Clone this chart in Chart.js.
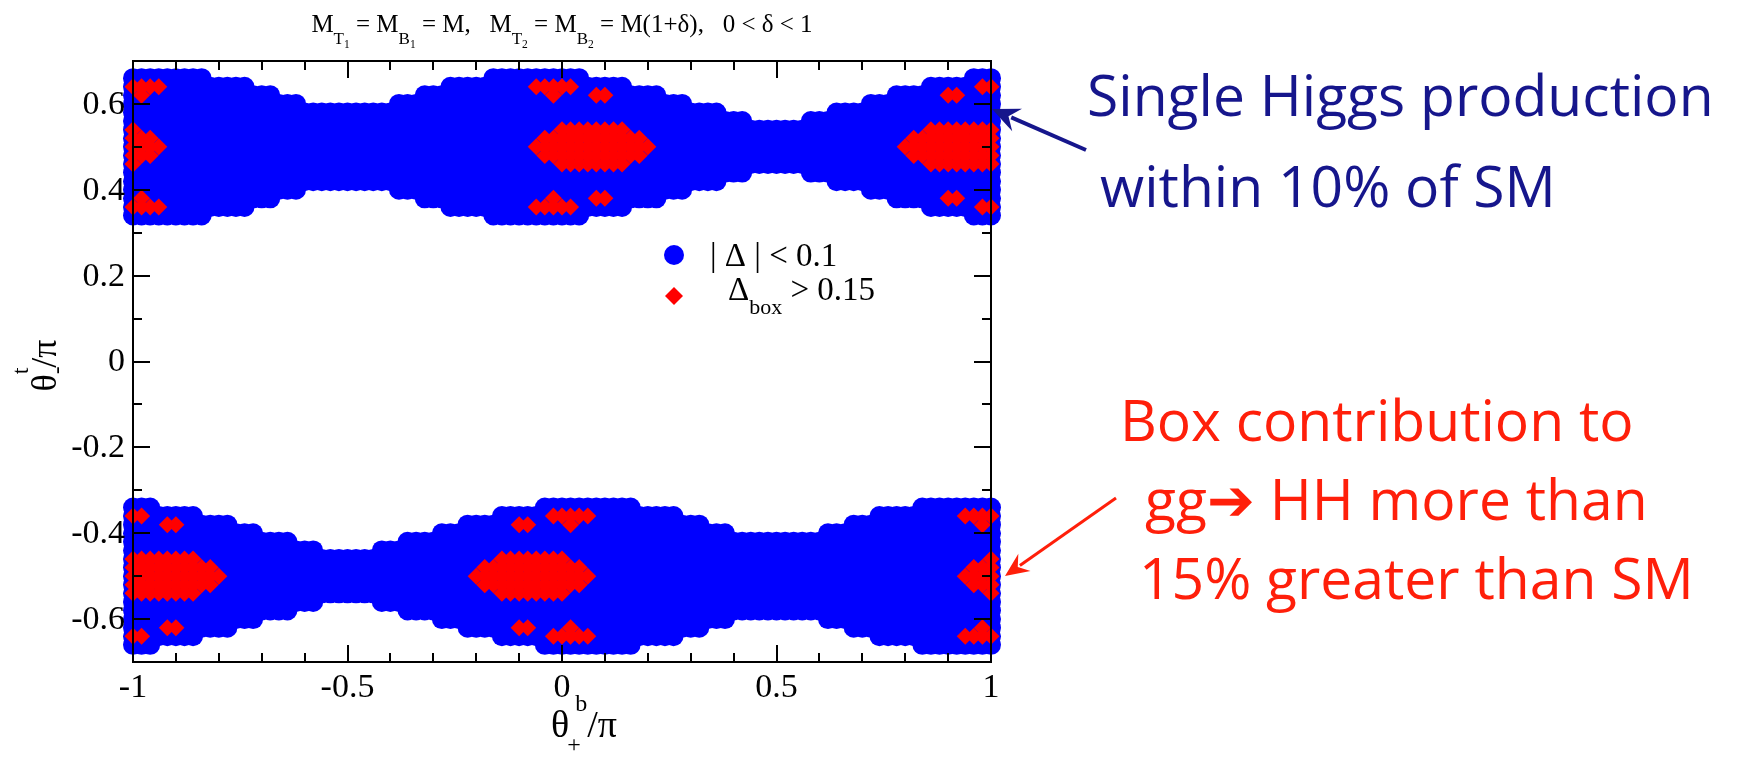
<!DOCTYPE html>
<html>
<head>
<meta charset="utf-8">
<script src="https://cdn.jsdelivr.net/npm/chart.js@4/dist/chart.umd.min.js"></script>
<style>
  html, body { margin: 0; padding: 0; background: #fff; }
  #wrap { width: 1746px; height: 757px; }
</style>
</head>
<body>
<div id="wrap"><canvas id="chart" width="1746" height="757"></canvas></div>
<script>
// scan grid step in theta/pi (both axes)
const gridStep = 0.02;

// blue |Delta| < 0.1 bands: [xFrom, xTo, half-width around band centre]
const upperCentre = 0.5;
const upperBand = [
  [-1.00, -0.84, 0.16], [-0.82, -0.74, 0.14], [-0.72, -0.68, 0.12], [-0.66, -0.62, 0.10],
  [-0.60, -0.40, 0.08], [-0.38, -0.34, 0.10], [-0.32, -0.28, 0.12], [-0.26, -0.18, 0.14],
  [-0.16, 0.04, 0.16], [0.06, 0.14, 0.14], [0.16, 0.22, 0.12], [0.24, 0.28, 0.10],
  [0.30, 0.36, 0.08], [0.38, 0.42, 0.06], [0.44, 0.56, 0.04], [0.58, 0.62, 0.06],
  [0.64, 0.70, 0.08], [0.72, 0.76, 0.10], [0.78, 0.84, 0.12], [0.86, 0.94, 0.14],
  [0.96, 1.00, 0.16]
];
const lowerCentre = -0.5;
const lowerBand = [
  [-1.00, -0.96, 0.16], [-0.94, -0.86, 0.14], [-0.84, -0.78, 0.12], [-0.76, -0.72, 0.10],
  [-0.70, -0.64, 0.08], [-0.62, -0.58, 0.06], [-0.56, -0.44, 0.04], [-0.42, -0.38, 0.06],
  [-0.36, -0.30, 0.08], [-0.28, -0.24, 0.10], [-0.22, -0.16, 0.12], [-0.14, -0.06, 0.14],
  [-0.04, 0.16, 0.16], [0.18, 0.26, 0.14], [0.28, 0.32, 0.12], [0.34, 0.38, 0.10],
  [0.40, 0.60, 0.08], [0.62, 0.66, 0.10], [0.68, 0.72, 0.12], [0.74, 0.82, 0.14],
  [0.84, 1.00, 0.16]
];

// red Delta_box > 0.15 points: [y, xFrom, xTo]
const boxRuns = [
  [0.64, -1.00, -0.94], [0.64, -0.06, 0.02], [0.64, 0.98, 1.00],
  [0.62, -0.98, -0.98], [0.62, -0.02, -0.02], [0.62, 0.08, 0.10], [0.62, 0.90, 0.92],
  [0.54, -1.00, -1.00], [0.54, 0.00, 0.14], [0.54, 0.86, 1.00],
  [0.52, -1.00, -0.96], [0.52, -0.04, 0.18], [0.52, 0.82, 1.00],
  [0.50, -1.00, -0.94], [0.50, -0.06, 0.20], [0.50, 0.80, 1.00],
  [0.48, -1.00, -0.96], [0.48, -0.04, 0.18], [0.48, 0.82, 1.00],
  [0.46, -1.00, -1.00], [0.46, 0.00, 0.14], [0.46, 0.86, 1.00],
  [0.38, -0.98, -0.98], [0.38, -0.02, -0.02], [0.38, 0.08, 0.10], [0.38, 0.90, 0.92],
  [0.36, -1.00, -0.94], [0.36, -0.06, 0.02], [0.36, 0.98, 1.00],
  [-0.36, -1.00, -0.98], [-0.36, -0.02, 0.06], [-0.36, 0.94, 1.00],
  [-0.38, -0.92, -0.90], [-0.38, -0.10, -0.08], [-0.38, 0.02, 0.02], [-0.38, 0.98, 0.98],
  [-0.46, -1.00, -0.86], [-0.46, -0.14, 0.00], [-0.46, 1.00, 1.00],
  [-0.48, -1.00, -0.82], [-0.48, -0.18, 0.04], [-0.48, 0.96, 1.00],
  [-0.50, -1.00, -0.80], [-0.50, -0.20, 0.06], [-0.50, 0.94, 1.00],
  [-0.52, -1.00, -0.82], [-0.52, -0.18, 0.04], [-0.52, 0.96, 1.00],
  [-0.54, -1.00, -0.86], [-0.54, -0.14, 0.00], [-0.54, 1.00, 1.00],
  [-0.62, -0.92, -0.90], [-0.62, -0.10, -0.08], [-0.62, 0.02, 0.02], [-0.62, 0.98, 0.98],
  [-0.64, -1.00, -0.98], [-0.64, -0.02, 0.06], [-0.64, 0.94, 1.00]
];

const xTicks = [-1, -0.5, 0, 0.5, 1];
const xTickLabels = ['-1', '-0.5', '0', '0.5', '1'];
const xMinorTicks = [-0.9, -0.8, -0.7, -0.6, -0.4, -0.3, -0.2, -0.1, 0.1, 0.2, 0.3, 0.4, 0.6, 0.7, 0.8, 0.9];
const yTicks = [-0.6, -0.4, -0.2, 0, 0.2, 0.4, 0.6];
const yTickLabels = ['-0.6', '-0.4', '-0.2', '0', '0.2', '0.4', '0.6'];
const yMinorTicks = [-0.5, -0.3, -0.1, 0.1, 0.3, 0.5];

const serif = '"Liberation Serif", "Times New Roman", serif';
const slideFont = '"Open Sans", "Noto Sans", sans-serif';
const navy = '#16168c';
const slideRed = '#ff1f0a';

const snap = (v) => Math.round(v / gridStep);
const val = (n) => +(n * gridStep).toFixed(2);

function bandPoints(profile, centre) {
  const pts = [];
  profile.forEach(([from, to, half]) => {
    for (let i = snap(from); i <= snap(to); i++) {
      for (let j = snap(centre - half); j <= snap(centre + half); j++) {
        pts.push({ x: val(i), y: val(j) });
      }
    }
  });
  return pts;
}

function runPoints(runs) {
  const pts = [];
  runs.forEach(([y, from, to]) => {
    for (let i = snap(from); i <= snap(to); i++) {
      pts.push({ x: val(i), y });
    }
  });
  return pts;
}

// parts: [text, size, dy, advance?, dx]
function drawRich(ctx, parts, x, y, align, family) {
  let width = 0;
  parts.forEach(p => {
    ctx.font = `${p[1]}px ${family}`;
    if (p[3] !== false) width += ctx.measureText(p[0]).width + (p[4] || 0);
  });
  let cx = align === 'center' ? x - width / 2 : x;
  parts.forEach(p => {
    ctx.font = `${p[1]}px ${family}`;
    ctx.fillText(p[0], cx + (p[4] || 0), y + (p[2] || 0));
    if (p[3] !== false) cx += ctx.measureText(p[0]).width + (p[4] || 0);
  });
}

function arrow(ctx, x0, y0, x1, y1, color, width, head) {
  const ang = Math.atan2(y1 - y0, x1 - x0);
  ctx.strokeStyle = color;
  ctx.fillStyle = color;
  ctx.lineWidth = width;
  ctx.beginPath();
  ctx.moveTo(x0, y0);
  ctx.lineTo(x1 - Math.cos(ang) * head * 0.7, y1 - Math.sin(ang) * head * 0.7);
  ctx.stroke();
  ctx.beginPath();
  ctx.moveTo(x1, y1);
  ctx.lineTo(x1 - head * Math.cos(ang - 0.42), y1 - head * Math.sin(ang - 0.42));
  ctx.lineTo(x1 - head * 0.6 * Math.cos(ang), y1 - head * 0.6 * Math.sin(ang));
  ctx.lineTo(x1 - head * Math.cos(ang + 0.42), y1 - head * Math.sin(ang + 0.42));
  ctx.closePath();
  ctx.fill();
}

const gracePlugin = {
  id: 'graceFrame',
  afterDatasetsDraw(chart) {
    const { ctx, chartArea: a, scales: { x, y } } = chart;
    ctx.save();
    ctx.strokeStyle = '#000';
    ctx.lineWidth = 2;
    ctx.strokeRect(a.left, a.top, a.right - a.left, a.bottom - a.top);

    // inward ticks on all four sides
    ctx.beginPath();
    const xt = (v, len) => {
      const px = Math.round(x.getPixelForValue(v));
      ctx.moveTo(px, a.bottom); ctx.lineTo(px, a.bottom - len);
      ctx.moveTo(px, a.top); ctx.lineTo(px, a.top + len);
    };
    const yt = (v, len) => {
      const py = Math.round(y.getPixelForValue(v));
      ctx.moveTo(a.left, py); ctx.lineTo(a.left + len, py);
      ctx.moveTo(a.right, py); ctx.lineTo(a.right - len, py);
    };
    xTicks.forEach(v => xt(v, 17));
    xMinorTicks.forEach(v => xt(v, 9));
    yTicks.forEach(v => yt(v, 17));
    yMinorTicks.forEach(v => yt(v, 9));
    ctx.stroke();

    ctx.fillStyle = '#000';
    ctx.font = `34px ${serif}`;
    ctx.textAlign = 'right';
    ctx.textBaseline = 'middle';
    yTicks.forEach((v, i) => ctx.fillText(yTickLabels[i], a.left - 8, y.getPixelForValue(v) + 1));
    ctx.textAlign = 'center';
    ctx.textBaseline = 'alphabetic';
    xTicks.forEach((v, i) => ctx.fillText(xTickLabels[i], x.getPixelForValue(v), a.bottom + 35));

    ctx.textAlign = 'left';
    // x axis title
    drawRich(ctx, [['θ', 38, 0], ['+', 24, 15, false, -2], ['b', 24, -26, true, 6], ['/π', 38, 0]],
      551, 737, 'left', serif);
    // y axis title, rotated
    ctx.save();
    ctx.translate(56, (a.top + a.bottom) / 2 + 4);
    ctx.rotate(-Math.PI / 2);
    drawRich(ctx, [['θ', 36, 0], ['-', 24, 8, false], ['t', 24, -28], ['/π', 36, 0]], 0, 0, 'center', serif);
    ctx.restore();

    // title
    drawRich(ctx, [
      ['M', 25, 0], ['T', 17, 12], ['1', 11.5, 16], [' = M', 25, 0], ['B', 17, 12], ['1', 11.5, 16],
      [' = M,   M', 25, 0], ['T', 17, 12], ['2', 11.5, 16], [' = M', 25, 0], ['B', 17, 12], ['2', 11.5, 16],
      [' = M(1+δ),   0 < δ < 1', 25, 0]
    ], (a.left + a.right) / 2, 32, 'center', serif);

    // legend
    const lx = 674;
    ctx.fillStyle = '#0000ff';
    ctx.beginPath();
    ctx.arc(lx, 255, 10, 0, Math.PI * 2);
    ctx.fill();
    ctx.fillStyle = '#ff0000';
    ctx.beginPath();
    ctx.moveTo(lx - 9, 296); ctx.lineTo(lx, 287); ctx.lineTo(lx + 9, 296); ctx.lineTo(lx, 305);
    ctx.closePath();
    ctx.fill();
    ctx.fillStyle = '#000';
    drawRich(ctx, [['| Δ | < 0.1', 33, 0]], 710, 266, 'left', serif);
    drawRich(ctx, [['Δ', 33, 0], ['box', 22, 14], [' > 0.15', 33, 0]], 728, 300, 'left', serif);

    // slide annotations
    ctx.fillStyle = navy;
    ctx.font = `57px ${slideFont}`;
    ctx.fillText('Single Higgs production', 1087, 116);
    ctx.fillText('within 10% of SM', 1100, 207);
    arrow(ctx, 1086, 150, 992, 109, navy, 4, 30);

    ctx.fillStyle = slideRed;
    ctx.font = `57px ${slideFont}`;
    ctx.fillText('Box contribution to', 1120, 441);
    ctx.fillText('gg➔ HH more than', 1145, 520);
    ctx.fillText('15% greater than SM', 1139, 599);
    arrow(ctx, 1116, 498, 1005, 576, slideRed, 3, 26);
    ctx.restore();
  }
};

new Chart(document.getElementById('chart'), {
  type: 'scatter',
  data: {
    datasets: [
      {
        label: 'Δbox > 0.15',
        data: runPoints(boxRuns),
        pointStyle: 'rectRot',
        pointRadius: 8.5,
        backgroundColor: '#ff0000',
        borderWidth: 0,
        clip: false
      },
      {
        label: '|Δ| < 0.1',
        data: bandPoints(upperBand, upperCentre).concat(bandPoints(lowerBand, lowerCentre)),
        pointStyle: 'circle',
        pointRadius: 10,
        backgroundColor: '#0000ff',
        borderWidth: 0,
        clip: false
      }
    ]
  },
  options: {
    responsive: false,
    animation: false,
    devicePixelRatio: 1,
    events: [],
    layout: { padding: { left: 133, right: 755, top: 61, bottom: 95 } },
    scales: {
      x: { type: 'linear', min: -1, max: 1, display: false },
      y: { type: 'linear', min: -0.7, max: 0.7, display: false }
    },
    plugins: {
      legend: { display: false },
      tooltip: { enabled: false }
    }
  },
  plugins: [gracePlugin]
});
</script>
</body>
</html>
